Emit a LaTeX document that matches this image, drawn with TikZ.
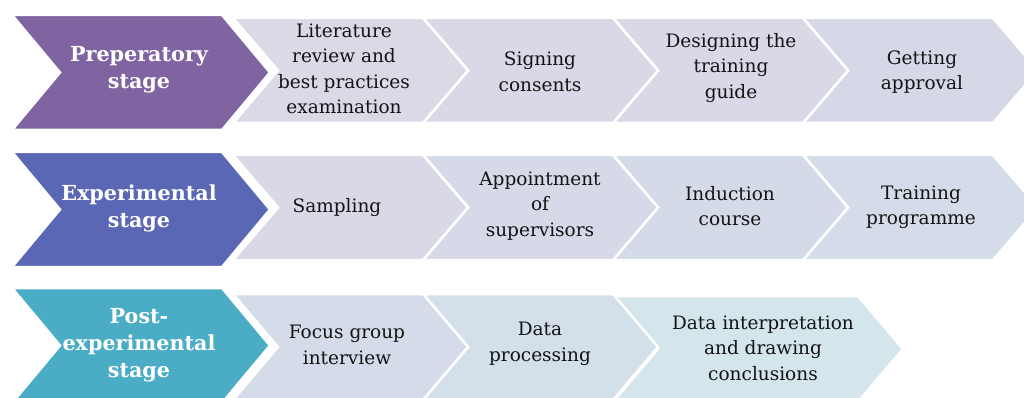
\documentclass[tikz,border=0pt]{standalone}
\usepackage{fontspec}
\setmainfont{DejaVu Serif}
\definecolor{cPurple}{HTML}{8064A2}
\definecolor{cBlue}{HTML}{5A67B5}
\definecolor{cCyan}{HTML}{4BACC6}
\definecolor{lA1}{HTML}{DDD8E6}
\definecolor{lA2}{HTML}{DAD7E6}
\definecolor{lA3}{HTML}{D8D8E7}
\definecolor{lA4}{HTML}{D6D8E8}
\definecolor{lB1}{HTML}{D8D8E6}
\definecolor{lB2}{HTML}{D6D9E7}
\definecolor{lB3}{HTML}{D4DAE8}
\definecolor{lB4}{HTML}{D3DCE8}
\definecolor{lC1}{HTML}{D3DCE8}
\definecolor{lC2}{HTML}{D3DFE9}
\definecolor{lC3}{HTML}{D4E5EC}
\begin{document}
\begin{tikzpicture}[x=1pt,y=-1pt,
  lbl/.style={align=center,font=\fontsize{18.5}{25.5}\selectfont,text=black!92,inner sep=0pt},
  biglbl/.style={align=center,font=\fontsize{20.7}{27}\selectfont\bfseries,text=white,inner sep=0pt},
  chev/.style={draw=white,line width=2.5pt,line join=miter}]
\useasboundingbox (0,0) rectangle (1024,398);
\clip (0,0) rectangle (1024,398);
\newcommand\chevshape[6]{% x0, midy, width, halfheight, depth, colour
  \path[chev,fill=#6] (#1,#2-#4) -- (#1+#3-#5,#2-#4) -- (#1+#3,#2) -- (#1+#3-#5,#2+#4) -- (#1,#2+#4) -- (#1+#5,#2) -- cycle;}
% Row 1
\chevshape{803}{70.5}{235}{52.5}{45}{lA4}
\chevshape{613}{70.5}{235}{52.5}{45}{lA3}
\chevshape{423}{70.5}{235}{52.5}{45}{lA2}
\chevshape{233}{70.5}{235}{52.5}{45}{lA1}
\chevshape{12}{72.5}{258}{57.5}{48}{cPurple}
% Row 2
\chevshape{803}{207.5}{235}{52.5}{45}{lB4}
\chevshape{613}{207.5}{235}{52.5}{45}{lB3}
\chevshape{423}{207.5}{235}{52.5}{45}{lB2}
\chevshape{233}{207.5}{235}{52.5}{45}{lB1}
\chevshape{12}{209.5}{258}{57.5}{48}{cBlue}
% Row 3
\chevshape{613}{349}{290}{53}{45}{lC3}
\chevshape{423}{347}{235}{53}{45}{lC2}
\chevshape{233}{347}{235}{53}{45}{lC1}
\chevshape{12}{345.5}{258}{57.5}{48}{cCyan}
% Texts row 1
\node[biglbl] (s1) at (139,70) {Preperatory\\stage};
\node[lbl] (a1) at (344,69) {Literature\\review and\\best practices\\examination};
\node[lbl] (a2) at (540,72) {Signing\\consents};
\node[lbl] (a3) at (731,68) {Designing the\\training\\guide};
\node[lbl] (a4) at (922,72) {Getting\\approval};
% Texts row 2
\node[biglbl] (s2) at (139,208) {Experimental\\stage};
\node[lbl] (b1) at (337,208) {Sampling};
\node[lbl] (b2) at (540,206) {Appointment\\of\\supervisors};
\node[lbl] (b3) at (730,206) {Induction\\course};
\node[lbl] (b4) at (921,207) {Training\\programme};
% Texts row 3
\node[biglbl] (s3) at (139,345) {Post-\\experimental\\stage};
\node[lbl] (c1) at (347,345) {Focus group\\interview};
\node[lbl] (c2) at (540,344) {Data\\processing};
\node[lbl] (c3) at (763,348) {Data interpretation\\and drawing\\conclusions};
\end{tikzpicture}
\end{document}
